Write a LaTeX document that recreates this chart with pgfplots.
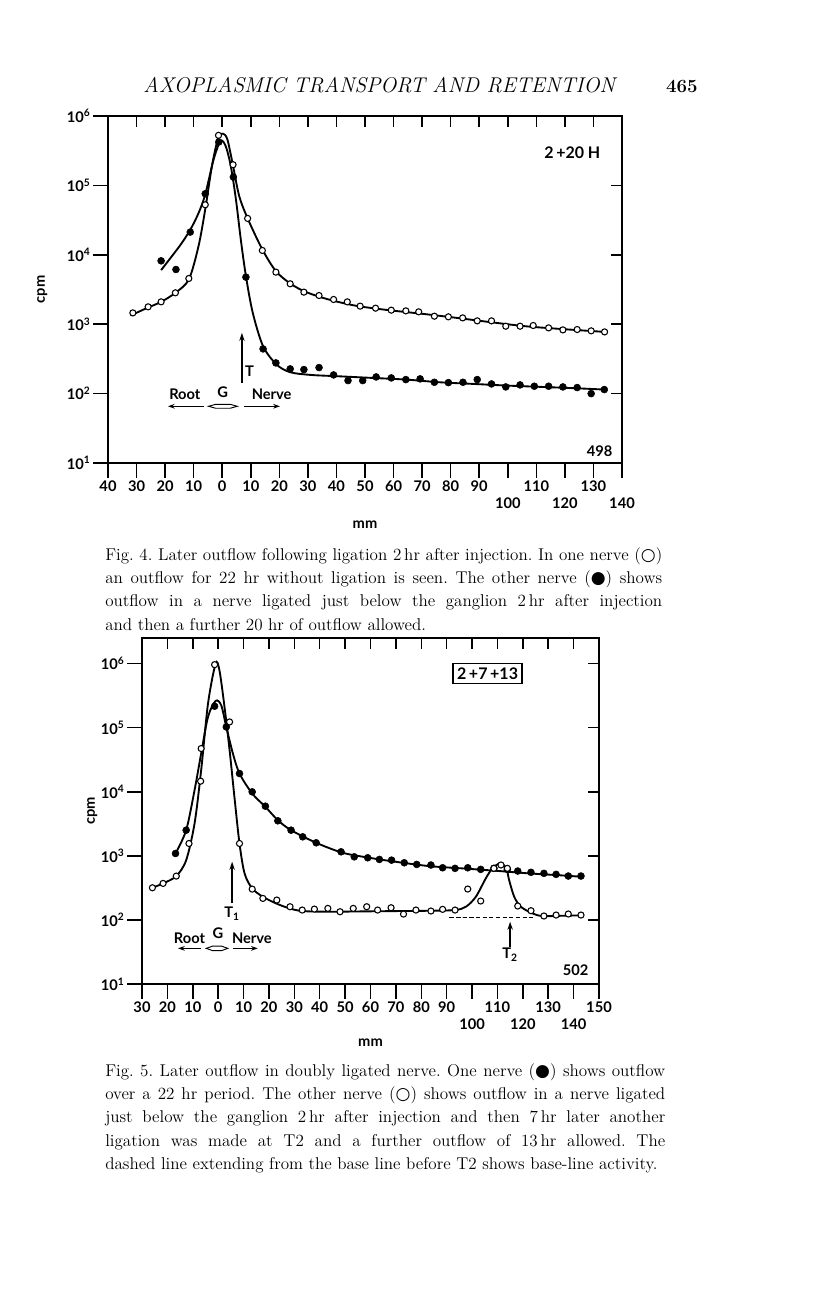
\documentclass[border=0pt]{standalone}
\usepackage{fontspec}
\usepackage{pgfplots}
\pgfplotsset{compat=1.18}
\usetikzlibrary{arrows.meta}
\newfontfamily\chartfont{Lato}
\newfontfamily\djv{DejaVu Sans}
\pgfplotsset{
  common/.style={
    scale only axis, anchor=south west, clip=false,
    axis line style={line width=1.1pt},
    tick style={line width=1.1pt, black},
    major tick length=11pt,
    tick label style={font=\chartfont\bfseries\fontsize{11}{12}\selectfont, inner sep=2pt},
    label style={font=\chartfont\bfseries\fontsize{11}{12}\selectfont},
  },
  inner/.style={
    common, xtick pos=top, ytick pos=right, tick align=inside,
    major tick length=8pt, xticklabels={}, yticklabels={},
  },
  opencurve/.style={smooth, no markers, line width=1.4pt, black},
  openmk/.style={only marks, mark=*, mark size=2.3pt, mark options={fill=white, draw=black, line width=0.8pt}},
  fillmk/.style={only marks, mark=*, mark size=2.6pt, mark options={fill=black, draw=black}},
}
\tikzset{lab/.style={font=\chartfont\bfseries\fontsize{11}{12}\selectfont}}
\begin{document}
\frenchspacing
\begin{tikzpicture}
\path[use as bounding box] (0,0) rectangle (612pt,972pt);
\fill[white] (0,0) rectangle (612pt,972pt);
% running header
\node[anchor=base west, inner sep=0pt, font=\fontsize{16}{18}\selectfont\itshape] at (107.25pt,902.25pt) {AXOPLASMIC TRANSPORT AND RETENTION};
\node[anchor=base east, inner sep=0pt, font=\fontsize{14}{16}\selectfont\bfseries] at (523.5pt,902.25pt) {465};

% ================= Fig. 4 =================
\begin{axis}[common, at={(81pt,624.75pt)}, width=385.5pt, height=260.25pt,
  xmin=-40, xmax=140, ymin=1, ymax=6,
  xtick pos=bottom, ytick pos=left, tick align=outside,
  xtick={-40,-30,-20,-10,0,10,20,30,40,50,60,70,80,90,110,130},
  xticklabels={40,30,20,10,0,10,20,30,40,50,60,70,80,90,110,130},
  extra x ticks={100,120,140}, extra x tick labels={100,120,140},
  extra x tick style={tick label style={yshift=-13pt}},
  ytick={1,2,3,4,5,6},
  yticklabels={10\textsuperscript{1},10\textsuperscript{2},10\textsuperscript{3},10\textsuperscript{4},10\textsuperscript{5},10\textsuperscript{6}},
  xlabel={mm}, xlabel style={at={(axis description cs:0.5,0)}, anchor=center, yshift=-46pt},
  ylabel={cpm}, ylabel style={at={(axis description cs:-0.128,0.5)}, anchor=center},
]
% open-circle curve (22 hr, no ligation)
\addplot[opencurve] coordinates {(-32.1,3.125) (-26.2,3.236) (-21.4,3.322) (-16.4,3.452) (-11.7,3.644) (-8.3,4.125) (-5.95,4.654) (-3.6,5.279) (-1.4,5.6875) (0.24,5.745) (1.8,5.663) (3.8,5.279) (5.95,4.846) (8.9,4.524) (14.05,4.077) (18.8,3.764) (23.8,3.587) (28.6,3.476) (34.5,3.389) (40.5,3.322) (47.6,3.26) (58.3,3.202) (70.2,3.149) (82.1,3.091) (94,3.029) (106,2.971) (117.9,2.933) (133.9,2.889)};
% filled-circle curve (ligated)
\addplot[opencurve] coordinates {(-21.4,3.779) (-18,3.96) (-14.5,4.15) (-11.2,4.36) (-8.3,4.6) (-5.95,4.87) (-3.0,5.375) (-0.6,5.639) (1.2,5.567) (3.0,5.279) (4.8,4.798) (6.5,4.221) (8.3,3.692) (10.7,3.163) (14.3,2.683) (19.05,2.418) (23.8,2.308) (30.95,2.269) (40.5,2.25) (52.4,2.226) (64.3,2.202) (76.2,2.163) (88.1,2.139) (100,2.115) (111.9,2.096) (123.8,2.077) (133.8,2.058)};
\addplot[openmk] coordinates {(-31.3,3.163) (-25.95,3.25) (-21.4,3.322) (-16.4,3.452) (-11.7,3.659) (-5.95,4.721) (-1.3,5.721) (3.8,5.298) (8.9,4.524) (14.05,4.0625) (18.8,3.75) (23.8,3.582) (28.6,3.462) (33.9,3.413) (39.0,3.356) (43.8,3.322) (48.3,3.26) (53.7,3.231) (59.2,3.202) (64.3,3.192) (68.8,3.178) (74.3,3.115) (79.2,3.106) (84.2,3.091) (89.3,3.048) (94.3,3.048) (99.3,2.971) (104.3,2.971) (108.9,2.981) (114.3,2.947) (119.3,2.918) (124.3,2.923) (129.2,2.904) (133.9,2.889)};
\addplot[fillmk] coordinates {(-21.4,3.913) (-16.2,3.788) (-11.2,4.327) (-5.95,4.88) (-1.2,5.625) (3.9,5.12) (8.3,3.678) (14.3,2.644) (18.8,2.442) (23.8,2.356) (28.6,2.346) (33.9,2.375) (39.0,2.269) (44.05,2.1875) (49.2,2.1875) (53.9,2.24) (59.2,2.226) (64.3,2.202) (69.3,2.212) (74.3,2.163) (79.2,2.158) (84.3,2.163) (89.3,2.202) (94.3,2.139) (99.3,2.096) (104.3,2.125) (109.3,2.106) (114.3,2.106) (119.3,2.096) (124.3,2.087) (129.2,2.0) (133.8,2.058)};
% annotations
\node[lab, font=\chartfont\bfseries\fontsize{12}{13}\selectfont] at (axis cs:122.6,5.47) {2\,+20 H};
\node[lab] at (axis cs:132.2,1.17) {498};
\draw[line width=1pt, -{Stealth[length=6pt,width=4pt]}] (axis cs:6.9,2.154) -- (axis cs:6.9,2.875);
\node[lab] at (axis cs:9.6,2.32) {T};
\node[lab] at (axis cs:-13.1,1.986) {Root};
\node[lab] at (axis cs:0.2,2.02) {G};
\node[lab] at (axis cs:17.3,1.986) {Nerve};
\draw[line width=0.9pt, -{Stealth[length=5pt,width=3.5pt]}] (axis cs:-6.5,1.817) -- (axis cs:-19,1.817);
\draw[line width=0.9pt, -{Stealth[length=5pt,width=3.5pt]}] (axis cs:7.7,1.817) -- (axis cs:20.2,1.817);
\draw[line width=0.7pt] (axis cs:-4.8,1.817) -- (axis cs:-2.3,1.845) -- (axis cs:2.8,1.845) -- (axis cs:5.3,1.817) -- (axis cs:2.8,1.789) -- (axis cs:-2.3,1.789) -- cycle;
\end{axis}
\begin{axis}[inner, at={(81pt,624.75pt)}, width=385.5pt, height=260.25pt,
  xmin=-40, xmax=140, ymin=1, ymax=6,
  xtick={-30,-20,-10,0,10,20,30,40,50,60,70,80,90,100,110,120,130},
  ytick={2,3,4,5}]
\end{axis}
\node[anchor=north west, inner sep=0pt, text width=417.75pt, align=justify, font=\fontsize{12.8}{17.6}\selectfont] at (78.75pt,561.75pt) {Fig.~4. Later outflow following ligation 2\,hr after injection. In one nerve ({\djv ○})\linebreak an outflow for 22 hr without ligation is seen. The other nerve ({\djv ●}) shows\linebreak outflow in a nerve ligated just below the ganglion 2\,hr after injection\linebreak and then a further 20 hr of outflow allowed.};

% ================= Fig. 5 =================
\begin{axis}[common, at={(106.5pt,234pt)}, width=342.75pt, height=259.5pt,
  xmin=-30, xmax=150, ymin=1, ymax=6.40,
  xtick pos=bottom, ytick pos=left, tick align=outside,
  xtick={-30,-20,-10,0,10,20,30,40,50,60,70,80,90,110,130,150},
  xticklabels={30,20,10,0,10,20,30,40,50,60,70,80,90,110,130,150},
  extra x ticks={100,120,140}, extra x tick labels={100,120,140},
  extra x tick style={tick label style={yshift=-13pt}},
  ytick={1,2,3,4,5,6},
  yticklabels={10\textsuperscript{1},10\textsuperscript{2},10\textsuperscript{3},10\textsuperscript{4},10\textsuperscript{5},10\textsuperscript{6}},
  xlabel={mm}, xlabel style={at={(axis description cs:0.5,0)}, anchor=center, yshift=-44pt},
  ylabel={cpm}, ylabel style={at={(axis description cs:-0.109,0.5)}, anchor=center},
]
% open-circle curve (double ligation)
\addplot[opencurve] coordinates {(-25.9,2.502) (-21.7,2.570) (-16.5,2.684) (-12.6,2.933) (-9.3,3.505) (-6.7,4.337) (-4.0,5.376) (-1.0,6.0) (0.5,5.896) (2.5,5.324) (4.5,4.649) (6.4,3.921) (8.4,3.193) (10.4,2.726) (13.4,2.492) (17.6,2.362) (22.8,2.258) (28.1,2.180) (33.3,2.138) (43.8,2.128) (56.9,2.133) (70.0,2.138) (83.1,2.143) (93.2,2.154) (97.6,2.206) (101.5,2.362) (105.4,2.648) (108.0,2.804) (110.9,2.88) (113.4,2.82) (114.6,2.622) (116.6,2.362) (119.2,2.206) (123.8,2.102) (127.7,2.060) (135.6,2.065) (142.8,2.071)};
% filled-circle curve (22 hr)
\addplot[opencurve] coordinates {(-16.8,3.037) (-12.6,3.401) (-9.3,4.025) (-6.7,4.597) (-4.0,5.168) (-1.0,5.418) (1.2,5.350) (3.2,5.012) (5.8,4.597) (8.4,4.285) (13.4,3.973) (18.6,3.765) (23.5,3.557) (28.7,3.401) (38.6,3.204) (49.05,3.048) (59.5,2.970) (70.0,2.907) (83.1,2.840) (96.2,2.804) (109.4,2.767) (122.5,2.726) (135.6,2.694) (142.8,2.674)};
\addplot[opencurve, densely dashed, line width=0.8pt, smooth=false] coordinates {(91.0,2.04) (124.8,2.04)};
\addplot[fillmk] coordinates {(-16.8,3.037) (-12.6,3.401) (-1.4,5.335) (3.2,5.012) (8.4,4.285) (13.4,3.999) (18.6,3.775) (23.5,3.547) (28.7,3.401) (33.3,3.297) (38.6,3.204) (48.4,3.063) (53.6,2.985) (58.9,2.970) (63.5,2.944) (68.3,2.933) (73.3,2.892) (78.2,2.866) (83.8,2.857) (88.4,2.814) (93.3,2.805) (98.3,2.814) (103.4,2.789) (108.6,2.805) (113.9,2.789) (118.0,2.763) (123.2,2.743) (128.3,2.727) (133.1,2.711) (137.9,2.685) (142.9,2.685)};
\addplot[openmk] coordinates {(-25.9,2.502) (-21.7,2.570) (-16.5,2.684) (-11.5,3.193) (-6.9,4.165) (-6.7,4.675) (-1.4,5.984) (4.5,5.09) (8.4,3.193) (13.4,2.481) (17.6,2.336) (23.1,2.310) (28.3,2.206) (33.1,2.154) (37.9,2.169) (43.2,2.180) (48.0,2.128) (53.2,2.180) (58.5,2.206) (62.8,2.154) (68.1,2.190) (73.0,2.091) (77.9,2.154) (83.8,2.139) (88.4,2.165) (93.3,2.154) (98.3,2.482) (103.4,2.295) (108.6,2.805) (111.4,2.857) (113.9,2.805) (118.0,2.217) (123.2,2.144) (128.3,2.061) (133.1,2.076) (137.9,2.092) (142.9,2.076)};
% annotations
\node[draw, line width=1pt, inner sep=3pt, font=\chartfont\bfseries\fontsize{12}{13}\selectfont] at (axis cs:106.1,5.844) {2\,+7\,+13};
\node[lab] at (axis cs:140.8,1.218) {502};
\draw[line width=1pt, -{Stealth[length=6pt,width=4pt]}] (axis cs:5.5,2.258) -- (axis cs:5.5,2.907);
\node[lab] at (axis cs:5.5,2.10) {T\textsubscript{1}};
\draw[line width=1pt, -{Stealth[length=6pt,width=4pt]}] (axis cs:115.0,1.582) -- (axis cs:115.0,1.972);
\node[lab] at (axis cs:115.0,1.46) {T\textsubscript{2}};
\node[lab] at (axis cs:-11.3,1.712) {Root};
\node[lab] at (axis cs:-0.1,1.79) {G};
\node[lab] at (axis cs:13.3,1.712) {Nerve};
\draw[line width=0.9pt, -{Stealth[length=5pt,width=3.5pt]}] (axis cs:-6.7,1.556) -- (axis cs:-15.8,1.556);
\draw[line width=0.9pt, -{Stealth[length=5pt,width=3.5pt]}] (axis cs:5.8,1.556) -- (axis cs:15.6,1.556);
\draw[line width=0.7pt] (axis cs:-4.7,1.556) -- (axis cs:-2.3,1.59) -- (axis cs:1.4,1.59) -- (axis cs:3.8,1.556) -- (axis cs:1.4,1.522) -- (axis cs:-2.3,1.522) -- cycle;
\end{axis}
\begin{axis}[inner, at={(106.5pt,234pt)}, width=342.75pt, height=259.5pt,
  xmin=-30, xmax=150, ymin=1, ymax=6.40,
  xtick={-20,-10,0,10,20,30,40,50,60,70,80,90,100,110,120,130,140},
  ytick={2,3,4,5,6}]
\end{axis}
\node[anchor=north west, inner sep=0pt, text width=420pt, align=justify, font=\fontsize{12.8}{17.6}\selectfont] at (78.75pt,174.75pt) {Fig.~5. Later outflow in doubly ligated nerve. One nerve ({\djv ●}) shows outflow\linebreak over a 22 hr period. The other nerve ({\djv ○}) shows outflow in a nerve ligated\linebreak just below the ganglion 2\,hr after injection and then 7\,hr later another\linebreak ligation was made at T2 and a further outflow of 13\,hr allowed. The\linebreak dashed line extending from the base line before T2 shows base-line activity.};
\end{tikzpicture}
\end{document}
